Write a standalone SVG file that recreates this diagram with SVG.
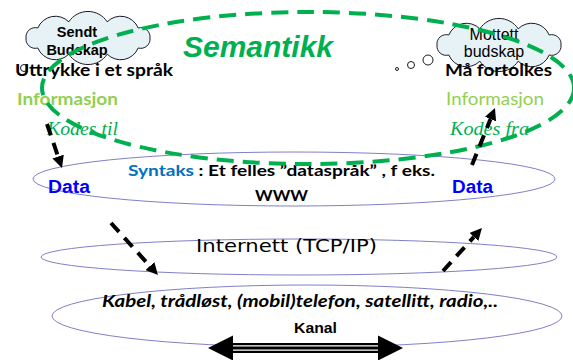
<svg xmlns="http://www.w3.org/2000/svg" width="573" height="360" viewBox="0 0 573 360">
<style>
.cloud{fill:#e6f2f6;stroke:#1a1a2a;stroke-width:1}
.bubble{fill:#ffffff;stroke:#1a1a2a;stroke-width:1}
.ring{fill:none;stroke:#8080c8;stroke-width:1}
.sem{fill:none;stroke:#00b050;stroke-width:4;stroke-dasharray:17 9}
.flow{fill:none;stroke:#000;stroke-width:4;stroke-dasharray:12 8}
.cal{font-family:Lato,"Open Sans","Noto Sans",sans-serif;font-weight:bold}
.ar{font-family:"Liberation Sans",Arial,sans-serif}
.ser{font-family:"Liberation Serif","Times New Roman",serif;font-style:italic;fill:#00b050;font-size:19.5px}
.lime{fill:#92d050}
.blue{fill:#0000ff;font-weight:bold;font-size:17.5px}
</style>
<defs>
<path id="cloudShape" d="M62,0 A9.3,9.3 0 0 1 50.2,10 A19,19 0 0 1 19.2,16.2 A23,23 0 0 1 -19.2,16.2 A19,19 0 0 1 -50.2,10 A9.3,9.3 0 0 1 -62,0 A9.3,9.3 0 0 1 -50.2,-10 A19,19 0 0 1 -19.2,-16.2 A23,23 0 0 1 19.2,-16.2 A19,19 0 0 1 50.2,-10 A9.3,9.3 0 0 1 62,0 Z"/>
<marker id="ah" viewBox="0 0 12 12" refX="0" refY="6" markerWidth="12" markerHeight="12" markerUnits="userSpaceOnUse" orient="auto">
<path d="M0,0 L12,6 L0,12 z" fill="#000"/>
</marker>
</defs>

<g id="syntaks-layer">
<ellipse class="ring" cx="294" cy="179" rx="261" ry="27"/>
</g>
<g id="internett-layer">
<ellipse class="ring" cx="299" cy="257" rx="258" ry="18"/>
<text x="196" y="252" font-size="17" textLength="181" lengthAdjust="spacingAndGlyphs" style="font-family:'DejaVu Sans',sans-serif">Internett (TCP/IP)</text>
</g>
<g id="kanal-layer">
<ellipse class="ring" cx="307" cy="316" rx="255" ry="31"/>
<text class="cal" x="102" y="307" font-size="17" font-style="italic" textLength="396" lengthAdjust="spacingAndGlyphs">Kabel, trådløst, (mobil)telefon, satellitt, radio,..</text>
<text class="ar" x="294" y="333" font-size="15.5" font-weight="bold" textLength="43" lengthAdjust="spacingAndGlyphs">Kanal</text>
</g>

<g id="sendt-budskap">
<circle class="bubble" cx="24" cy="68" r="3.5"/>
<use href="#cloudShape" class="cloud" transform="translate(88,38)"/>
<text class="ar" x="77" y="37" font-size="14.5" font-weight="bold" text-anchor="middle">Sendt</text>
<text class="ar" x="77" y="55" font-size="14.5" font-weight="bold" text-anchor="middle">Budskap</text>
</g>
<g id="mottett-budskap">
<circle class="bubble" cx="397" cy="69" r="1.5"/>
<circle class="bubble" cx="411" cy="65" r="3.5"/>
<circle class="bubble" cx="428" cy="60" r="5"/>
<use href="#cloudShape" class="cloud" transform="translate(499,45)"/>
<text class="ar" x="494" y="40" font-size="16" text-anchor="middle">Mottett</text>
<text class="ar" x="494" y="57" font-size="16" text-anchor="middle">budskap</text>
</g>

<g id="sender">
<text class="cal" x="15" y="76" font-size="17" textLength="158" lengthAdjust="spacingAndGlyphs">Uttrykke i et språk</text>
<text class="cal lime" x="17" y="105" font-size="17" textLength="101" lengthAdjust="spacingAndGlyphs">Informasjon</text>
<text class="ser" x="47" y="135" textLength="71" lengthAdjust="spacingAndGlyphs">Kodes til</text>
<text class="ar blue" x="48" y="193" textLength="42" lengthAdjust="spacingAndGlyphs">Data</text>
</g>
<g id="receiver">
<text class="cal" x="445" y="76" font-size="17" textLength="107" lengthAdjust="spacingAndGlyphs">Må fortolkes</text>
<text class="lime" x="446" y="105" font-size="17" font-family="Lato,'Open Sans',sans-serif" textLength="98" lengthAdjust="spacingAndGlyphs">Informasjon</text>
<text class="ser" x="450" y="135" textLength="79" lengthAdjust="spacingAndGlyphs">Kodes fra</text>
<text class="ar blue" x="452" y="193" textLength="41" lengthAdjust="spacingAndGlyphs">Data</text>
</g>
<g id="syntaks">
<text class="cal" x="128" y="176" font-size="16" textLength="307" lengthAdjust="spacingAndGlyphs"><tspan fill="#0070c0">Syntaks</tspan> : Et felles ”dataspråk” , f eks.</text>
<text class="cal" x="255" y="201" font-size="16" textLength="53" lengthAdjust="spacingAndGlyphs">WWW</text>
</g>

<g id="semantikk">
<ellipse class="sem" cx="308" cy="88" rx="266" ry="76"/>
<text class="ar" x="183" y="57" font-size="29" font-weight="bold" font-style="italic" fill="#00b050" textLength="150" lengthAdjust="spacingAndGlyphs">Semantikk</text>
</g>

<g id="connectors">
<path class="flow" d="M47,124 L58.1,156.6" marker-end="url(#ah)"/>
<path class="flow" d="M111,223 L149.9,266.1" marker-end="url(#ah)"/>
<path class="flow" d="M443,271 L473.9,236.9" marker-end="url(#ah)"/>
<path class="flow" d="M472,165 L490.5,119.1" marker-end="url(#ah)"/>
<g id="kanal-arrow">
<rect x="232" y="343" width="147" height="10" fill="#000"/>
<line x1="232" y1="345.9" x2="379" y2="345.9" stroke="#fff" stroke-width="1.4"/>
<line x1="232" y1="350.1" x2="379" y2="350.1" stroke="#fff" stroke-width="1.4"/>
<polygon points="208,348 233,335.5 233,360.5" fill="#000"/>
<polygon points="403,348 378,335.5 378,360.5" fill="#000"/>
</g>
</g>
</svg>
